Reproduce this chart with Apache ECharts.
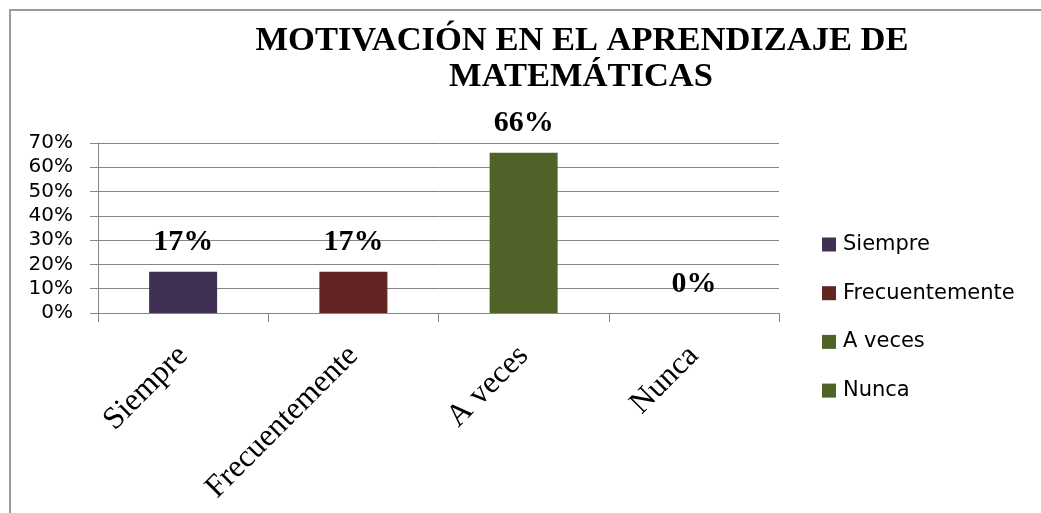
<!DOCTYPE html>
<html>
<head>
<meta charset="utf-8">
<script src="https://cdn.jsdelivr.net/npm/echarts@6/dist/echarts.min.js"></script>
<style>
html,body{margin:0;padding:0;background:#fff;}
#chart{width:1041px;height:513px;}
</style>
</head>
<body>
<div id="chart"></div>
<script>
const titleLines = ['MOTIVACIÓN EN EL APRENDIZAJE DE', 'MATEMÁTICAS'];
const categories = ['Siempre', 'Frecuentemente', 'A veces', 'Nunca'];
const values = [17, 17, 66, 0];
const colors = ['#403152', '#632523', '#4f6228', '#4f6228'];
const yMin = 0, yMax = 70, yStep = 10;

const chart = echarts.init(document.getElementById('chart'), null, {renderer: 'canvas'});

const series = categories.map((name, i) => ({
  name: name,
  type: 'bar',
  stack: 'all',
  barWidth: 68,
  data: values.map((v, j) => (j === i ? v : null)),
  itemStyle: {color: colors[i]},
  label: {
    show: true,
    position: 'top',
    distance: 14,
    formatter: '{c}%',
    fontFamily: 'Liberation Serif',
    fontWeight: 'bold',
    fontSize: 30,
    color: '#000'
  }
}));

chart.setOption({
  animation: false,
  backgroundColor: '#fff',
  graphic: [
    {type: 'rect', shape: {x: 10, y: 10, width: 1100, height: 600}, style: {fill: 'none', stroke: '#9a9a9a', lineWidth: 2}, silent: true},
    {type: 'text', x: 582, y: 41, style: {text: titleLines[0], font: 'bold 34.5px "Liberation Serif"', fill: '#000', textAlign: 'center', textVerticalAlign: 'middle'}},
    {type: 'text', x: 581, y: 77, style: {text: titleLines[1], font: 'bold 34.5px "Liberation Serif"', fill: '#000', textAlign: 'center', textVerticalAlign: 'middle'}}
  ],
  legend: {
    orient: 'vertical',
    left: 822,
    top: 234,
    padding: 0,
    icon: 'rect',
    itemWidth: 14,
    itemHeight: 14,
    itemGap: 27.7,
    data: categories,
    textStyle: {fontFamily: 'DejaVu Sans', fontSize: 21, color: '#000', padding: [0, 0, 0, 2]}
  },
  grid: {left: 98, right: 262, top: 143, bottom: 200},
  xAxis: {
    type: 'category',
    data: categories,
    axisLine: {show: true, lineStyle: {color: '#868686', width: 1}},
    axisTick: {show: true, alignWithLabel: false, length: 9, lineStyle: {color: '#868686'}},
    axisLabel: {interval: 0, rotate: 45, margin: 38, fontFamily: 'Liberation Serif', fontSize: 31.5, color: '#000'}
  },
  yAxis: {
    type: 'value',
    min: yMin, max: yMax, interval: yStep,
    axisLine: {show: true, lineStyle: {color: '#868686', width: 1}},
    axisTick: {show: true, length: 8, lineStyle: {color: '#868686'}},
    splitLine: {show: true, lineStyle: {color: '#868686', width: 1}},
    axisLabel: {formatter: '{value}%', margin: 25, fontFamily: 'DejaVu Sans', fontSize: 20, color: '#000'}
  },
  series: series
});
</script>
</body>
</html>
